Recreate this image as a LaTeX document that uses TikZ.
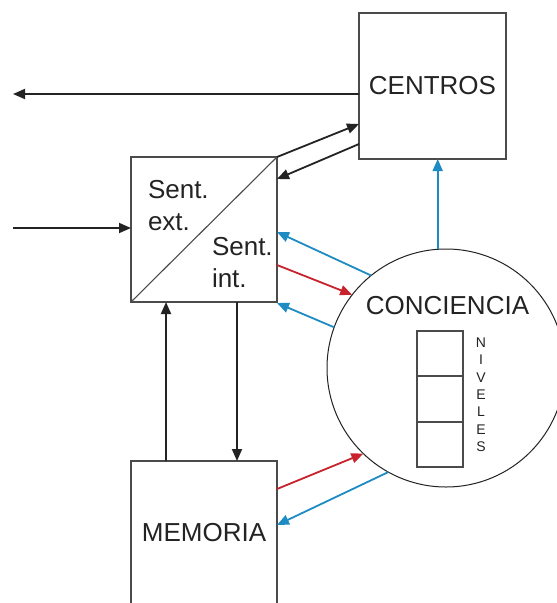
\documentclass[tikz,border=0pt]{standalone}
\usepackage{fontspec}
\setmainfont{Liberation Sans}
\usetikzlibrary{arrows.meta,calc}
\definecolor{lineblue}{RGB}{30,140,195}
\definecolor{linered}{RGB}{200,35,45}
\definecolor{ink}{RGB}{35,35,35}
\definecolor{boxgray}{RGB}{75,75,75}
\begin{document}
\begin{tikzpicture}[x=1pt,y=-1pt,
  box/.style={draw=boxgray, line width=1.3pt, minimum width=146pt, minimum height=145pt,
    inner sep=0pt, outer sep=0pt, font=\fontsize{26}{31}\selectfont, text=ink},
  cell/.style={draw=boxgray, line width=1.2pt, minimum width=46pt, minimum height=45pt,
    inner sep=0pt, outer sep=0pt},
  txt/.style={inner sep=0pt, outer sep=0pt, font=\fontsize{26}{31}\selectfont, text=ink},
  conn/.style={line width=1.8pt, draw=ink, -{Triangle[length=12pt,width=10pt]}},
  bconn/.style={conn, draw=lineblue},
  rconn/.style={conn, draw=linered}]
\clip (0,0) rectangle (557,603);
\fill[white] (0,0) rectangle (557,603);

% boxes
\node[box, minimum width=147pt, minimum height=146pt] (centros) at (432.5,86) {CENTROS};
\node[box] (sent) at (204,229.5) {};
\node[box, minimum height=144pt] (memoria) at (204,533) {MEMORIA};
\draw[draw=boxgray, line width=1.1pt] (sent.south west) -- (sent.north east);

% sent texts
\node[txt, anchor=base west] (se1) at (148,198) {Sent.};
\node[txt, anchor=base west] (se2) at (148,230) {ext.};
\node[txt, anchor=base west] (si1) at (212,255) {Sent.};
\node[txt, anchor=base west] (si2) at (212,287) {int.};

% conciencia
\node[circle, draw=ink, line width=1pt, minimum size=238pt, inner sep=0pt, outer sep=0pt] (conc) at (446,368) {};
\node[txt] (conctext) at (447.5,306) {CONCIENCIA};
\node[cell] (niv1) at (440,353.5) {};
\node[cell] (niv2) at (440,399) {};
\node[cell] (niv3) at (440,444.5) {};
\node[inner sep=0pt, outer sep=0pt, anchor=north, align=center, text=ink,
  font=\fontsize{14}{17.3}\selectfont] (niveles) at (481,338) {N\\I\\V\\E\\L\\E\\S};

% connectors
\coordinate (outL) at (13,94);
\coordinate (inL) at (13,228);
\draw[conn] ($(centros.west)+(0,8)$) -- (outL);
\draw[conn] (inL) -- (inL -| sent.west);
\draw[conn] (sent.north east) -- ($(centros.west)+(0,38)$);
\draw[conn] ($(centros.west)+(0,58)$) -- ($(sent.north east)+(0,22)$);
\draw[bconn] (conc.94.3) -- (conc.94.3 |- centros.south);
\draw[bconn] (conc.129.3) -- ($(sent.east)+(0,2.5)$);
\draw[rconn] ($(sent.east)+(0,35.5)$) -- (conc.142.2);
\draw[bconn] (conc.160.1) -- ($(sent.south east)+(0,1)$);
\draw[conn] ($(memoria.north)+(-38,0)$) -- ($(sent.south)+(-38,0)$);
\draw[conn] ($(sent.south)+(33,0)$) -- ($(memoria.north)+(33,0)$);
\draw[rconn] ($(memoria.east)+(0,-44)$) -- (conc.226);
\draw[bconn] (conc.241.5) -- ($(memoria.east)+(0,-8)$);
\end{tikzpicture}
\end{document}
